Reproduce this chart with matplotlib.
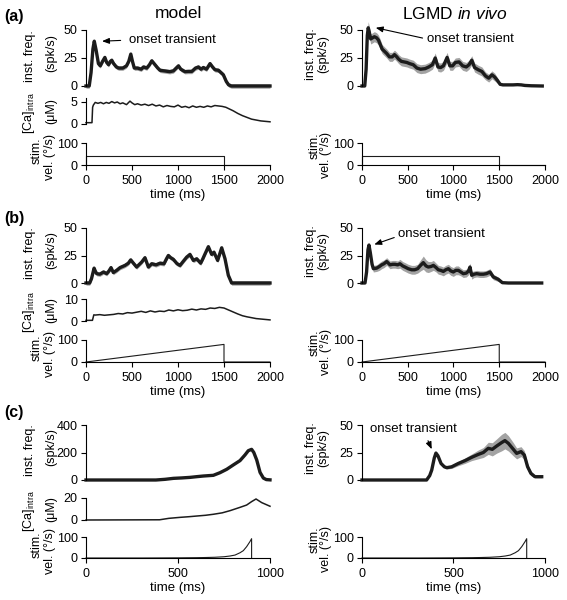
import numpy as np
import matplotlib
matplotlib.use('Agg')
import matplotlib.pyplot as plt

plt.rcParams['font.family'] = ['Liberation Sans', 'DejaVu Sans']
plt.rcParams['mathtext.fontset'] = 'custom'
plt.rcParams['mathtext.rm'] = 'Liberation Sans'
plt.rcParams['mathtext.it'] = 'Liberation Sans:italic'
plt.rcParams['font.size'] = 9.5

# ---------------- data ----------------
# (a) constant velocity stimulus
a_model_t = [0, 35, 55, 75, 90, 110, 135, 155, 180, 205, 225, 245, 265, 280, 300, 330, 355, 400, 440, 465,
             487, 505, 525, 560, 600, 625, 660, 690, 715, 750, 780, 805, 850, 910, 950, 980, 1005, 1030, 1075, 1110,
             1150, 1190, 1222, 1250, 1275, 1310, 1348, 1375, 1402, 1440, 1493, 1525, 1550, 1580, 2000]
a_model_f = [0, 0, 12, 33, 40, 32, 20, 18, 22, 25.5, 21, 19, 22, 23, 20, 17, 16, 16, 18, 22,
             28.5, 22, 16, 16, 15, 17, 16, 19, 22.5, 19, 16, 14, 13.5, 12.8, 13.5, 16, 18, 15, 12.8, 13,
             13, 16, 17, 15, 16.5, 15, 20, 17, 14.5, 14, 10, 4, 1, 0, 0]
a_ca_t = [0, 65, 72, 80, 100, 130, 160, 190, 220, 250, 280, 310, 340, 370, 400, 440, 478, 500, 530, 560,
          600, 640, 680, 720, 760, 800, 840, 880, 920, 960, 1000, 1040, 1080, 1120, 1160, 1200, 1240, 1280, 1320, 1360,
          1400, 1440, 1480, 1520, 1560, 1600, 1650, 1700, 1750, 1800, 1850, 1900, 1950, 2000]
a_ca = [0.3, 0.3, 3.8, 4.3, 4.9, 4.7, 4.9, 4.6, 4.9, 4.7, 5.1, 4.8, 5.0, 4.6, 4.8, 4.4, 5.2, 4.8, 4.4, 4.6,
        4.3, 4.5, 4.2, 4.5, 4.1, 4.3, 3.9, 4.2, 4.0, 3.9, 4.3, 3.8, 4.0, 3.7, 4.1, 3.8, 4.0, 3.8, 4.1, 3.9,
        4.2, 4.1, 4.0, 3.8, 3.4, 3.0, 2.4, 1.9, 1.5, 1.1, 0.9, 0.7, 0.6, 0.5]
a_vivo_t = [0, 30, 45, 58, 68, 80, 95, 115, 135, 160, 180, 200, 220, 245, 270, 300, 330, 355, 380, 400,
            430, 460, 490, 520, 560, 600, 640, 690, 730, 770, 800, 830, 860, 890, 930, 960, 990, 1020, 1060, 1100,
            1140, 1170, 1200, 1230, 1270, 1310, 1350, 1385, 1420, 1450, 1480, 1510, 1540, 1580, 1650, 1700, 1740, 1780, 1850, 1970]
a_vivo_f = [0, 0, 15, 45, 52, 48, 42, 43, 44, 43, 41, 37, 33, 31, 29, 26, 26, 28, 26, 24,
            22, 21.5, 21, 20, 19, 16, 15, 15.5, 17, 19, 25, 17, 16.5, 18, 25.5, 18, 18, 21, 21.5, 18,
            17, 19, 23, 16.5, 14.5, 13, 9, 7, 10, 8, 5, 1.5, 1, 1, 1, 1.2, 1, 0.5, 0.2, 0]
a_vivo_sem = [0, 0, 2, 4, 5.5, 5, 4.5, 4.5, 4.5, 4.5, 4.5, 4.5, 4, 4, 4, 4, 4, 4, 4, 4,
              4, 4, 4, 4, 4, 4, 4, 4, 4, 4, 4.5, 4, 4, 4, 4.5, 4, 4, 4, 4, 4,
              4, 4, 4, 4, 4, 4, 3.5, 3.5, 3.5, 3.5, 2.5, 1, 0.6, 0.5, 0.5, 0.5, 0.5, 0.4, 0.3, 0.3]
a_stim_t = [0, 0, 1500, 1500, 2000]
a_stim = [0, 40, 40, 0, 0]

# (b) linearly increasing velocity
b_model_t = [0, 40, 60, 88, 100, 116, 150, 190, 225, 250, 272, 297, 333, 370, 424, 460, 486, 515, 550, 580,
             605, 641, 678, 714, 761, 804, 848, 875, 895, 920, 949, 990, 1022, 1060, 1094, 1130, 1167, 1203, 1246, 1270,
             1286, 1330, 1366, 1391, 1431, 1475, 1511, 1547, 1583, 2000]
b_model_f = [0, 0, 4, 13.5, 11, 8.5, 8, 10, 8.5, 11, 14, 9.5, 11.5, 14, 16, 18, 21, 18, 14.5, 17,
             19, 23, 14.5, 17.5, 16.5, 18, 17.5, 22, 25, 23, 21.5, 17.5, 16, 20, 23.5, 26, 20.5, 22, 18, 22,
             25, 33, 26, 28, 20.5, 32, 22, 7, 0, 0]
b_ca_t = [0, 70, 85, 100, 150, 200, 250, 300, 350, 400, 450, 500, 550, 600, 650, 700, 750, 800, 850, 900,
          950, 1000, 1050, 1100, 1150, 1200, 1250, 1300, 1350, 1400, 1450, 1500, 1550, 1600, 1650, 1700, 1750, 1800,
          1850, 1900, 1950, 2000]
b_ca = [0.3, 0.3, 2.8, 2.7, 2.9, 2.6, 2.8, 3.0, 3.4, 3.2, 3.8, 3.6, 4.0, 4.4, 3.9, 4.6, 4.1, 4.5, 4.3, 5.0,
        4.6, 5.1, 4.7, 4.9, 5.4, 5.0, 5.5, 5.3, 5.9, 5.7, 6.2, 5.9, 5.0, 4.1, 3.2, 2.4, 1.9, 1.5,
        1.1, 0.9, 0.7, 0.5]
b_vivo_t = [0, 33, 50, 65, 76, 90, 110, 124, 160, 190, 215, 240, 270, 306, 335, 361, 390, 415, 445, 470,
            505, 543, 575, 608, 640, 670, 700, 725, 755, 780, 810, 834, 860, 889, 915, 944, 970, 998, 1025, 1053,
            1080, 1107, 1140, 1165, 1180, 1199, 1225, 1253, 1290, 1326, 1360, 1399, 1435, 1490, 1534, 1600, 1964]
b_vivo_f = [0, 0, 10, 30, 34.5, 28, 17, 13, 13.5, 15, 16.5, 17.5, 19.5, 16.5, 17, 17, 16.5, 17.5, 15.5, 14.5,
            13, 12, 12, 13, 16, 18.5, 15.5, 14.5, 15, 16, 14, 12, 11.5, 10.5, 12, 13, 11, 10, 11.5, 11.5,
            10, 8.5, 9, 11, 14.5, 7, 8, 8.5, 8, 8, 8.5, 10, 5.5, 3.3, 0.3, 0, 0]
b_vivo_sem = [0, 0, 1.5, 2, 2.5, 2.5, 3, 3, 3, 3.5, 3.5, 3.5, 3.5, 3.5, 3.5, 3.5, 3.5, 4, 4, 4,
              4, 4, 4, 4, 5, 6, 5.5, 5, 4.5, 4.5, 4, 4, 4, 4, 4, 4, 4, 4, 4, 4,
              3.5, 3.5, 3.5, 3.5, 3.5, 3.5, 3, 3, 3, 3, 3, 3, 2.5, 2, 0.5, 0.3, 0.3]
b_stim_t = [0, 1500, 1500, 2000]
b_stim = [0, 80, 0, 0]

# (c) looming stimulus
c_model_t = [0, 380, 430, 475, 520, 565, 600, 638, 692, 728, 765, 800, 837, 864, 882, 900, 912, 928, 946, 964, 980, 1000]
c_model_f = [0, 0, 5, 12, 15, 19, 24, 29, 34, 53, 78, 109, 141, 182, 213, 223, 200, 145, 55, 14, 3, 1]
c_ca_t = [0, 400, 450, 511, 560, 601, 650, 692, 740, 783, 810, 837, 873, 900, 924, 955, 1000]
c_ca = [0, 0.2, 1.5, 2.4, 3.0, 3.6, 4.3, 5.2, 6.5, 8.5, 10, 11.5, 13.6, 16.7, 19.1, 15.8, 12.5]
c_vivo_t = [0, 353, 370, 381, 395, 404, 415, 432, 450, 463, 490, 526, 563, 599, 636, 663, 690, 712, 736, 763,
            781, 800, 827, 845, 869, 887, 905, 923, 945, 982]
c_vivo_f = [0, 0, 4, 9, 20, 24.5, 22, 15, 12, 11.2, 12, 15, 17.6, 20.6, 23.3, 25, 28.8, 27.9, 30.9, 34,
            35.8, 33.3, 27.9, 24.2, 25.8, 22.7, 12, 6, 3, 3]
c_vivo_sem = [0, 0, 0.5, 0.8, 1, 1, 1, 1, 1, 1.2, 1.5, 2, 2.5, 3, 4, 4.5, 5.5, 6, 6.5, 7.5,
              7.5, 7, 6, 5, 4.5, 4, 3, 2, 1, 1]
c_stim_t = [0, 300, 400, 500, 600, 650, 700, 750, 783, 810, 837, 855, 873, 891, 900, 900]
c_stim = [0, 0, 0.3, 0.7, 1.5, 2.3, 3.5, 6, 9.5, 14, 25, 35, 54, 78, 92, 0]

model_sem = 2.0

# ---------------- layout ----------------
W, H = 567, 600
fig = plt.figure(figsize=(W / 100, H / 100), dpi=100)

def rect(x0, x1, ytop, ybot):
    return [x0 / W, 1 - ybot / H, (x1 - x0) / W, (ybot - ytop) / H]

LX = (86, 270)
RX = (362, 545)
dark = '#1c1c1c'
band = '#a3a3a3'
TICK_FS = 9
LAB_FS = 9

def clean(ax, xaxis=False):
    ax.spines['top'].set_visible(False)
    ax.spines['right'].set_visible(False)
    for s in ax.spines.values():
        s.set_linewidth(0.8)
    ax.tick_params(direction='out', length=3.5, width=0.8, labelsize=TICK_FS)
    ax.tick_params(axis='y', pad=2.5)
    ax.tick_params(axis='x', pad=4)
    if not xaxis:
        ax.spines['bottom'].set_visible(False)
        ax.tick_params(axis='x', bottom=False, labelbottom=False)

def freq_plot(ax, t, f, sem, yl, yt, lw=2.4):
    t = np.array(t); f = np.array(f)
    if sem is not None:
        s = np.array(sem) if np.ndim(sem) else np.full(len(f), sem)
        ax.fill_between(t, f - s, f + s, color=band, lw=0, clip_on=False)
    ax.plot(t, f, color=dark, lw=lw, clip_on=False, solid_joinstyle='round')
    ax.set_ylim(*yl)
    ax.set_yticks(yt)
    clean(ax)

def stim_plot(ax, t, s, xl, xt):
    ax.plot(t, s, color=dark, lw=0.8, clip_on=False)
    ax.set_ylim(0, 100)
    ax.set_yticks([0, 100])
    ax.set_xlim(*xl)
    ax.set_xticks(xt)
    ax.set_xlabel('time (ms)', fontsize=9.5, labelpad=1)
    clean(ax, xaxis=True)

def ca_plot(ax, t, c, yl, yt):
    ax.plot(t, c, color=dark, lw=1.1, clip_on=False)
    ax.set_ylim(*yl)
    ax.set_yticks(yt)
    clean(ax)

rows = [
    # freq top/bottom, ca top/bottom, stim top/bottom (pixels)
    dict(f=(30, 86), c=(97.6, 124), s=(143, 165)),
    dict(f=(228, 283), c=(299, 321), s=(340, 362)),
    dict(f=(425, 480), c=(498, 520), s=(537, 558)),
]

def vtext(x, y, s):
    fig.text(x / W, 1 - y / H, s, rotation=90, ha='center', va='center', fontsize=LAB_FS)

panels = [
    dict(mt=a_model_t, mf=a_model_f, ct=a_ca_t, cv=a_ca, cyl=(0, 6), cyt=[0, 5],
         vt=a_vivo_t, vf=a_vivo_f, vs=a_vivo_sem, st=a_stim_t, sv=a_stim,
         xl=(0, 2000), xt=[0, 500, 1000, 1500, 2000], myl=(0, 50), myt=[0, 25, 50], msem=model_sem),
    dict(mt=b_model_t, mf=b_model_f, ct=b_ca_t, cv=b_ca, cyl=(0, 10), cyt=[0, 10],
         vt=b_vivo_t, vf=b_vivo_f, vs=b_vivo_sem, st=b_stim_t, sv=b_stim,
         xl=(0, 2000), xt=[0, 500, 1000, 1500, 2000], myl=(0, 50), myt=[0, 25, 50], msem=model_sem),
    dict(mt=c_model_t, mf=c_model_f, ct=c_ca_t, cv=c_ca, cyl=(0, 20), cyt=[0, 20],
         vt=c_vivo_t, vf=c_vivo_f, vs=c_vivo_sem, st=c_stim_t, sv=c_stim,
         xl=(0, 1000), xt=[0, 500, 1000], myl=(0, 400), myt=[0, 200, 400], msem=None),
]

freq_axes = []
for r, p in zip(rows, panels):
    # model column
    axf = fig.add_axes(rect(*LX, *r['f']))
    axc = fig.add_axes(rect(*LX, *r['c']), sharex=axf)
    axs = fig.add_axes(rect(*LX, *r['s']), sharex=axf)
    freq_plot(axf, p['mt'], p['mf'], p['msem'], p['myl'], p['myt'])
    ca_plot(axc, p['ct'], p['cv'], p['cyl'], p['cyt'])
    stim_plot(axs, p['st'], p['sv'], p['xl'], p['xt'])
    # in vivo column
    bxf = fig.add_axes(rect(*RX, *r['f']))
    bxs = fig.add_axes(rect(*RX, *r['s']), sharex=bxf)
    freq_plot(bxf, p['vt'], p['vf'], p['vs'], (0, 50), [0, 25, 50])
    stim_plot(bxs, p['st'], p['sv'], p['xl'], p['xt'])
    freq_axes.append((axf, bxf))

    # y labels, one text per line
    fc = sum(r['f']) / 2
    cc = sum(r['c']) / 2
    sc = sum(r['s']) / 2
    vtext(30, fc - 2, 'inst. freq.')
    vtext(51, fc - 5, '(spk/s)')
    vtext(29, cc + 2, '[Ca]$_{\\mathrm{intra}}$')
    vtext(51, cc, '(\u03bcM)')
    vtext(37, sc - 3, 'stim.')
    vtext(50, sc + 3, 'vel. (\u00b0/s)')
    vtext(311, fc - 4, 'inst. freq.')
    vtext(323, fc - 4, '(spk/s)')
    vtext(314.5, sc - 8, 'stim.')
    vtext(326, sc + 1, 'vel. (\u00b0/s)')

# annotations
arrow = dict(arrowstyle='-|>,head_length=0.45,head_width=0.18', color='k', lw=0.8, shrinkB=0)
freq_axes[0][0].annotate('onset transient', xy=(174, 40), xytext=(467, 41), ha='left', va='center',
                         fontsize=9.5, annotation_clip=False,
                         arrowprops=dict(arrow, relpos=(0, 0.5), shrinkA=4))
freq_axes[0][1].annotate('onset transient', xy=(150, 52), xytext=(707, 42), ha='left', va='center',
                         fontsize=9.5, annotation_clip=False,
                         arrowprops=dict(arrow, relpos=(0, 0.5), shrinkA=1))
freq_axes[1][1].annotate('onset transient', xy=(134, 35), xytext=(397, 44.8), ha='left', va='center',
                         fontsize=9.5, annotation_clip=False,
                         arrowprops=dict(arrow, relpos=(0, 0.3), shrinkA=1))
freq_axes[2][1].annotate('onset transient', xy=(381, 28), xytext=(44, 46), ha='left', va='center',
                         fontsize=9.5, annotation_clip=False,
                         arrowprops=dict(arrow, relpos=(0.64, 0), shrinkA=2))

# titles and panel letters
fig.text(178 / W, 1 - 14 / H, 'model', ha='center', va='center', fontsize=12.5)
fig.text(455 / W, 1 - 14 / H, 'LGMD $\\mathit{in\\ vivo}$', ha='center', va='center', fontsize=12.5)
for letter, yc in zip(['(a)', '(b)', '(c)'], [17, 218, 412]):
    fig.text(4 / W, 1 - yc / H, letter, ha='left', va='center', fontsize=11.5, fontweight='bold')

fig.savefig('out.png', dpi=100)
